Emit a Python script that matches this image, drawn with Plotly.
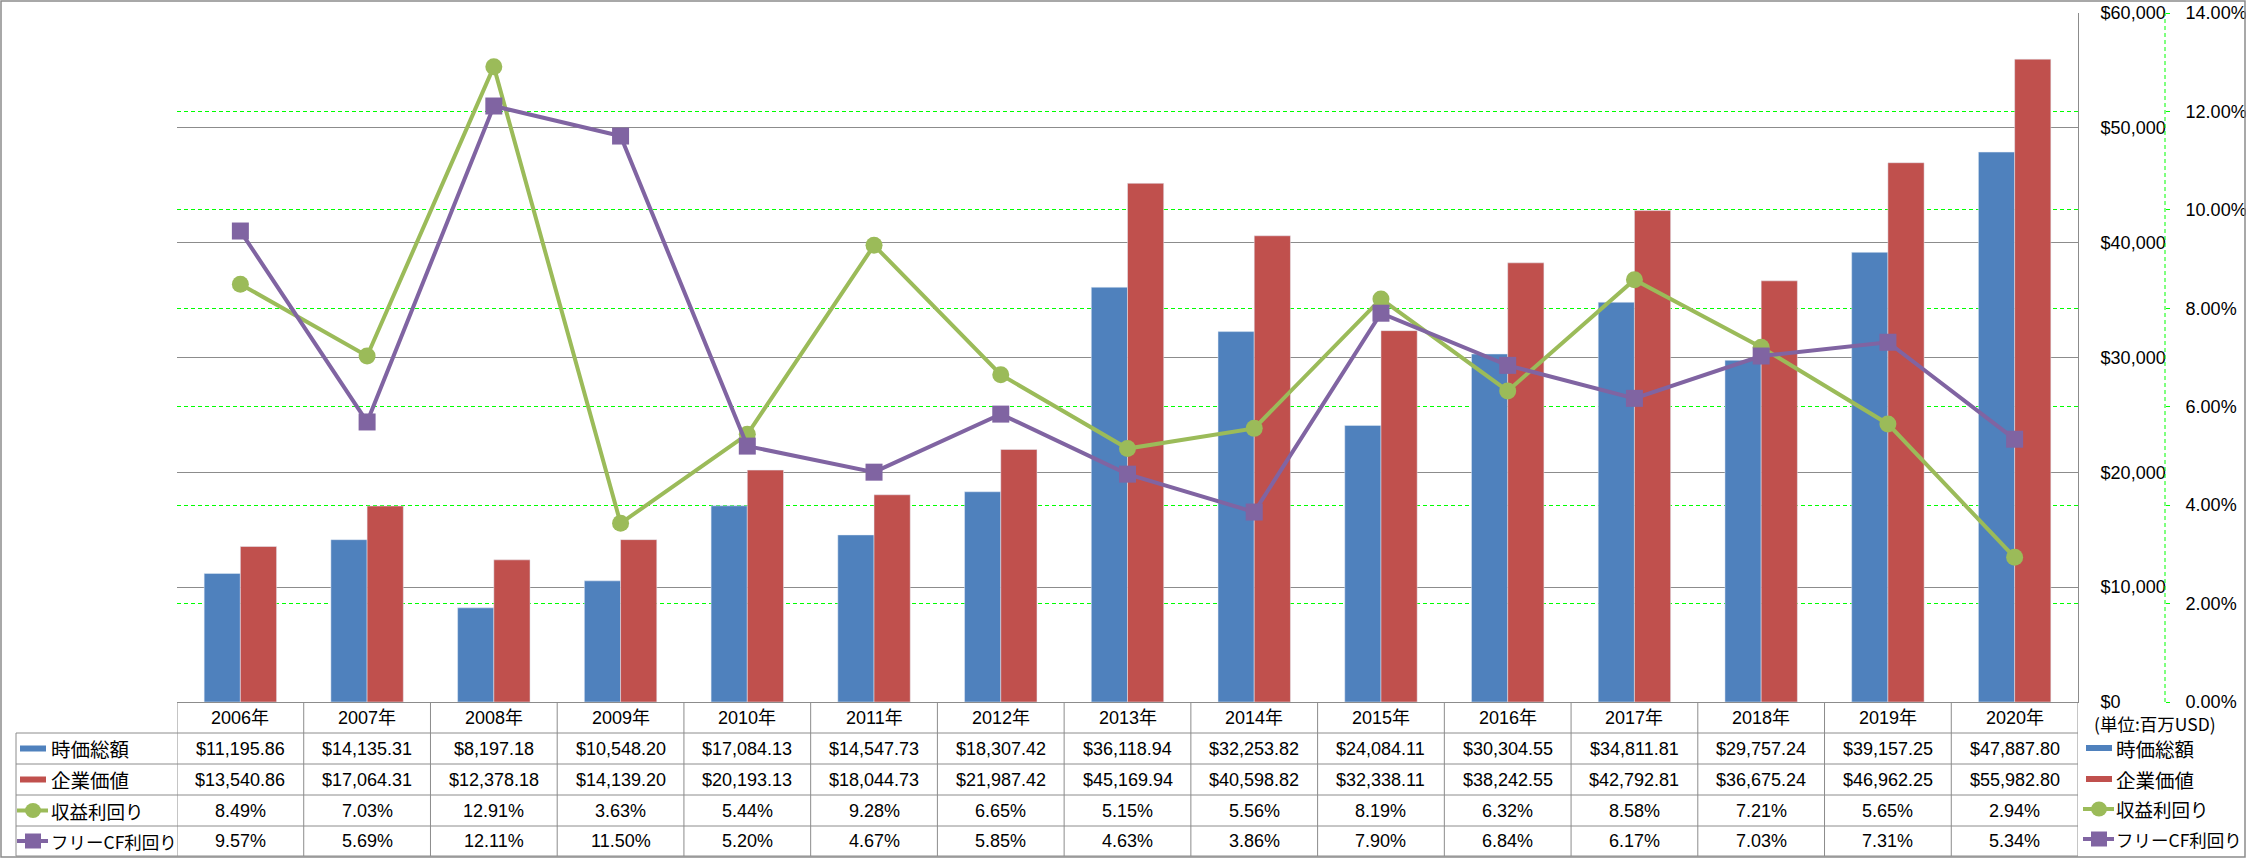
import plotly.graph_objects as go

years = ["2006年", "2007年", "2008年", "2009年", "2010年", "2011年", "2012年", "2013年",
         "2014年", "2015年", "2016年", "2017年", "2018年", "2019年", "2020年"]
market_cap = [11195.86, 14135.31, 8197.18, 10548.20, 17084.13, 14547.73, 18307.42, 36118.94,
              32253.82, 24084.11, 30304.55, 34811.81, 29757.24, 39157.25, 47887.80]
enterprise_value = [13540.86, 17064.31, 12378.18, 14139.20, 20193.13, 18044.73, 21987.42, 45169.94,
                    40598.82, 32338.11, 38242.55, 42792.81, 36675.24, 46962.25, 55982.80]
earnings_yield = [8.49, 7.03, 12.91, 3.63, 5.44, 9.28, 6.65, 5.15, 5.56, 8.19, 6.32, 8.58, 7.21, 5.65, 2.94]
fcf_yield = [9.57, 5.69, 12.11, 11.50, 5.20, 4.67, 5.85, 4.63, 3.86, 7.90, 6.84, 6.17, 7.03, 7.31, 5.34]

series_names = ["時価総額", "企業価値", "収益利回り", "フリーCF利回り"]
unit_label = "(単位:百万USD)"

BLUE, RED, GREEN, PURPLE = "#4F81BD", "#C0504D", "#9BBB59", "#8064A2"
GRID = "#8c8c8c"
LGREEN = "#00ff00"
FONT = "Liberation Sans, Noto Sans CJK JP, sans-serif"
CJK = "Noto Sans CJK JP, sans-serif"

W, H = 2246, 858
L, PR, AX2, T, B = 177, 2078, 2165, 13, 702


def px(x):
    return (x - L) / (AX2 - L)


def py(y):
    return (B - y) / (B - T)


fig = go.Figure()
fig.add_trace(go.Bar(x=years, y=market_cap, name=series_names[0], marker_color=BLUE))
fig.add_trace(go.Bar(x=years, y=enterprise_value, name=series_names[1], marker_color=RED))
fig.add_trace(go.Scatter(x=years, y=earnings_yield, name=series_names[2], yaxis="y2",
                         mode="lines+markers", line=dict(color=GREEN, width=4),
                         marker=dict(symbol="circle", size=17, color=GREEN)))
fig.add_trace(go.Scatter(x=years, y=fcf_yield, name=series_names[3], yaxis="y2",
                         mode="lines+markers", line=dict(color=PURPLE, width=4),
                         marker=dict(symbol="square", size=17, color=PURPLE)))

shapes = []
annotations = []

# table geometry (pixels)
row_edges = [702, 733, 764, 795, 826, 856]
for i in range(len(years) + 1):
    shapes.append(dict(type="line", xref="x", yref="paper", x0=i - 0.5, x1=i - 0.5,
                       y0=py(702), y1=py(856), line=dict(color=GRID, width=1)))
for ry in row_edges[1:]:
    shapes.append(dict(type="line", xref="paper", yref="paper", x0=px(16), x1=px(PR),
                       y0=py(ry), y1=py(ry), line=dict(color=GRID, width=1)))
shapes.append(dict(type="line", xref="paper", yref="paper", x0=px(16), x1=px(16),
                   y0=py(733), y1=py(856), line=dict(color=GRID, width=1)))
# outer border
shapes.append(dict(type="rect", xref="paper", yref="paper", x0=px(1), x1=px(2245),
                   y0=py(1), y1=py(857), line=dict(color=GRID, width=1.5)))
# secondary axis dashed line
shapes.append(dict(type="line", xref="paper", yref="paper", x0=1, x1=1, y0=0, y1=1,
                   line=dict(color=LGREEN, width=1, dash="4px,3px")))

centers = [(row_edges[k] + row_edges[k + 1]) / 2 for k in range(5)]

for i, yr in enumerate(years):
    cells = [yr, f"${market_cap[i]:,.2f}", f"${enterprise_value[i]:,.2f}",
             f"{earnings_yield[i]:.2f}%", f"{fcf_yield[i]:.2f}%"]
    for r, txt in enumerate(cells):
        annotations.append(dict(x=yr, y=py(centers[r]), xref="x", yref="paper", text=txt,
                                xanchor="center", yanchor="middle",
                                showarrow=False, font=dict(size=18)))


def legend_key(x0, yc, kind):
    if kind in ("blue", "red"):
        col = BLUE if kind == "blue" else RED
        shapes.append(dict(type="rect", xref="paper", yref="paper", x0=px(x0), x1=px(x0 + 26),
                           y0=py(yc - 3), y1=py(yc + 3), line=dict(width=0), fillcolor=col))
    else:
        col = GREEN if kind == "green" else PURPLE
        shapes.append(dict(type="line", xref="paper", yref="paper", x0=px(x0 - 3), x1=px(x0 + 28),
                           y0=py(yc), y1=py(yc), line=dict(color=col, width=4)))
        cx = x0 + 13
        shapes.append(dict(type="circle" if kind == "green" else "rect", xref="paper", yref="paper",
                           x0=px(cx - 8), x1=px(cx + 8), y0=py(yc - 7.5), y1=py(yc + 7.5),
                           line=dict(width=0), fillcolor=col))


kinds = ["blue", "red", "green", "purple"]
label_sizes = [19.5, 19.5, 18.5, 17.5]
for k in range(4):
    yc = centers[k + 1]
    legend_key(20, yc, kinds[k])
    annotations.append(dict(x=px(49), y=py(yc), xref="paper", yref="paper", text=series_names[k],
                            xanchor="left", yanchor="middle", showarrow=False,
                            font=dict(size=label_sizes[k], family=CJK)))

right_y = [748, 779, 809, 839]
for k in range(4):
    legend_key(2086, right_y[k], kinds[k])
    annotations.append(dict(x=px(2114), y=py(right_y[k]), xref="paper", yref="paper",
                            text=series_names[k], xanchor="left", yanchor="middle", showarrow=False,
                            font=dict(size=label_sizes[k], family=CJK)))
annotations.append(dict(x=px(2092), y=py(724), xref="paper", yref="paper", text=unit_label,
                        xanchor="left", yanchor="middle", showarrow=False,
                        font=dict(size=17.5, family=CJK)))

fig.update_layout(
    width=W, height=H,
    margin=dict(l=L, r=W - AX2, t=T, b=H - B, pad=0, autoexpand=False),
    paper_bgcolor="white", plot_bgcolor="white",
    font=dict(family=FONT, size=18, color="#000000"),
    showlegend=False,
    barmode="group", bargap=1.5 / 3.5, bargroupgap=0,
    xaxis=dict(domain=[0, px(PR)], type="category", range=[-0.5, len(years) - 0.5],
               showticklabels=False, ticks="", showgrid=False, zeroline=False,
               showline=True, linecolor=GRID, linewidth=1, automargin=False),
    yaxis=dict(range=[0, 60000], dtick=10000, side="right", tickprefix="$", tickformat=",",
               showgrid=True, gridcolor=GRID, gridwidth=1, zeroline=False, automargin=False,
               showline=True, linecolor=GRID, linewidth=1, ticks="", ticklabelstandoff=18),
    yaxis2=dict(range=[0, 14], dtick=2, overlaying="y", side="right", anchor="free", position=1,
                tickformat=".2f", ticksuffix="%", showgrid=True, gridcolor=LGREEN, gridwidth=1,
                griddash="4px,3px", zeroline=False, showline=False, automargin=False,
                ticks="outside", ticklen=4, tickcolor=LGREEN, ticklabelstandoff=12),
    shapes=shapes,
    annotations=annotations,
)

fig.write_html("out.html", config={"displayModeBar": False},
               post_script="document.body.style.margin='0';document.body.style.overflow='hidden';")
